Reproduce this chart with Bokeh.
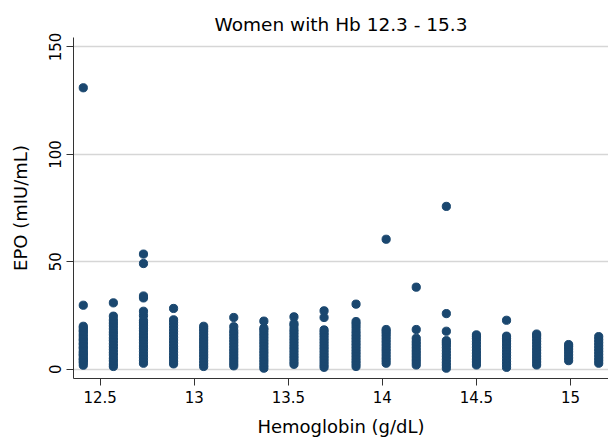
from bokeh.plotting import figure
from bokeh.models import FixedTicker, Range1d, ColumnDataSource
from bokeh.embed import file_html
from bokeh.resources import INLINE

# Hemoglobin levels (g/dL) of each column of points
hb_levels = [12.41, 12.57, 12.73, 12.89, 13.05, 13.21, 13.37, 13.53, 13.69,
             13.86, 14.02, 14.18, 14.34, 14.50, 14.66, 14.82, 14.99, 15.15]

# EPO values (mIU/mL) read for each column
epo_1241 = [1.9, 3.1, 3.8, 4.6, 5.2, 6.4, 6.9, 7.7, 8.5, 9.8, 10.3, 11.6, 12.2,
            13.5, 14.1, 15.3, 16.2, 17.4, 18.1, 19.2, 20.0, 29.8, 131.0]
epo_1257 = [1.3, 2.4, 3.9, 5.1, 6.6, 7.8, 9.2, 10.5, 11.9, 13.4, 14.6, 16.1,
            17.3, 18.8, 20.2, 21.5, 22.9, 24.7, 30.9]
epo_1273 = [2.8, 4.1, 5.5, 6.7, 8.2, 9.6, 10.8, 12.3, 13.7, 15.0, 16.4, 17.9,
            19.1, 20.5, 21.6, 22.6, 24.9, 27.0, 33.2, 34.1, 49.2, 53.6]
epo_1289 = [2.5, 3.7, 5.2, 6.5, 7.9, 9.4, 10.6, 12.1, 13.5, 14.8, 16.3, 17.6,
            19.0, 20.4, 21.8, 23.0, 28.3]
epo_1305 = [1.3, 2.6, 4.0, 5.4, 6.7, 8.1, 9.5, 10.8, 12.2, 13.6, 14.9, 16.3,
            17.7, 18.9, 20.0]
epo_1321 = [1.6, 2.9, 4.3, 5.6, 7.0, 8.4, 9.7, 11.1, 12.5, 13.8, 15.2, 16.6,
            17.9, 19.8, 24.1]
epo_1337 = [0.5, 1.8, 3.2, 4.5, 5.9, 7.3, 8.6, 10.0, 11.4, 12.7, 14.1, 15.5,
            16.8, 18.2, 19.1, 22.4]
epo_1353 = [2.3, 3.6, 5.0, 6.3, 7.7, 9.1, 10.4, 11.8, 13.2, 14.5, 15.9, 17.3,
            18.6, 20.4, 21.3, 24.4]
epo_1369 = [0.9, 2.2, 3.6, 5.0, 6.3, 7.7, 9.1, 10.4, 11.8, 13.2, 14.5, 15.9,
            17.1, 18.3, 24.1, 27.2]
epo_1386 = [1.3, 2.7, 4.0, 5.4, 6.8, 8.1, 9.5, 10.9, 12.2, 13.6, 15.0, 16.3,
            17.7, 19.4, 20.9, 22.2, 30.3]
epo_1402 = [2.8, 4.2, 5.5, 6.9, 8.3, 9.6, 11.0, 12.4, 13.7, 15.1, 16.4, 17.6,
            18.5, 60.5]
epo_1418 = [2.0, 3.4, 4.7, 6.1, 7.5, 8.8, 10.2, 11.6, 12.9, 14.4, 18.5, 38.2]
epo_1434 = [0.5, 1.9, 3.2, 4.6, 6.0, 7.3, 8.7, 10.1, 11.4, 12.4, 13.3, 17.7,
            25.9, 75.8]
epo_1450 = [2.0, 3.4, 4.7, 6.1, 7.5, 8.8, 10.2, 11.6, 12.9, 14.3, 15.2, 16.0]
epo_1466 = [0.9, 2.3, 3.6, 5.0, 6.4, 7.7, 9.1, 10.5, 11.8, 13.2, 14.3, 15.4,
            22.8]
epo_1482 = [2.0, 3.4, 4.8, 6.1, 7.5, 8.9, 10.2, 11.6, 13.0, 14.3, 15.5, 16.4]
epo_1499 = [4.0, 5.3, 6.7, 8.1, 9.4, 10.6, 11.5]
epo_1515 = [2.8, 4.2, 5.5, 6.9, 8.3, 9.6, 11.0, 12.4, 13.8, 15.2]

epo_columns = [epo_1241, epo_1257, epo_1273, epo_1289, epo_1305, epo_1321,
               epo_1337, epo_1353, epo_1369, epo_1386, epo_1402, epo_1418,
               epo_1434, epo_1450, epo_1466, epo_1482, epo_1499, epo_1515]

x_ticks = [12.5, 13, 13.5, 14, 14.5, 15]
x_tick_labels = ["12.5", "13", "13.5", "14", "14.5", "15"]
y_ticks = [0, 50, 100, 150]
y_tick_labels = ["0", "50", "100", "150"]

xs, ys = [], []
for hb, col in zip(hb_levels, epo_columns):
    for v in col:
        xs.append(hb)
        ys.append(v)
src = ColumnDataSource(dict(x=xs, y=ys))

FONT = "DejaVu Sans"
NAVY = "#1a476f"

p = figure(width=608, height=440, output_backend="svg", toolbar_location=None,
           x_range=Range1d(12.358, 15.202), y_range=Range1d(-4.3, 154.4),
           min_border_left=73, min_border_right=0, min_border_top=37,
           min_border_bottom=62, background_fill_color="white",
           border_fill_color="white")
p.outline_line_color = None

p.title.text = "Women with Hb 12.3 - 15.3"
p.title.align = "center"
p.title.text_font = FONT
p.title.text_font_size = "18.5px"
p.title.text_font_style = "normal"
p.title.text_color = "black"
p.title.standoff = 5

p.scatter("x", "y", source=src, size=8.2, color=NAVY, line_color=NAVY)

# x axis
xa = p.xaxis[0]
xa.ticker = FixedTicker(ticks=x_ticks)
xa.major_label_overrides = {t: l for t, l in zip(x_ticks, x_tick_labels)}
xa.axis_label = "Hemoglobin (g/dL)"
xa.axis_label_text_font = FONT
xa.axis_label_text_font_size = "18px"
xa.axis_label_text_font_style = "normal"
xa.axis_label_text_color = "black"
xa.axis_label_standoff = 10
xa.major_label_text_font = FONT
xa.major_label_text_font_size = "15px"
xa.major_label_text_color = "black"
xa.major_label_standoff = 5
xa.major_tick_out = 7
xa.major_tick_in = 0
xa.minor_tick_out = 0
xa.minor_tick_in = 0
xa.axis_line_color = "#333333"
xa.major_tick_line_color = "#333333"

# y axis
ya = p.yaxis[0]
ya.ticker = FixedTicker(ticks=y_ticks)
ya.major_label_overrides = {t: l for t, l in zip(y_ticks, y_tick_labels)}
ya.major_label_orientation = "vertical"
ya.axis_label = "EPO (mIU/mL)"
ya.axis_label_text_font = FONT
ya.axis_label_text_font_size = "18px"
ya.axis_label_text_font_style = "normal"
ya.axis_label_text_color = "black"
ya.axis_label_standoff = 16
ya.major_label_text_font = FONT
ya.major_label_text_font_size = "15px"
ya.major_label_text_color = "black"
ya.major_label_standoff = 5
ya.major_tick_out = 7
ya.major_tick_in = 0
ya.minor_tick_out = 0
ya.minor_tick_in = 0
ya.axis_line_color = "#333333"
ya.major_tick_line_color = "#333333"

p.xgrid.grid_line_color = None
p.ygrid.grid_line_color = "#d6d6d6"
p.ygrid.grid_line_width = 1.5

open("out.html", "w").write(file_html(p, INLINE))
